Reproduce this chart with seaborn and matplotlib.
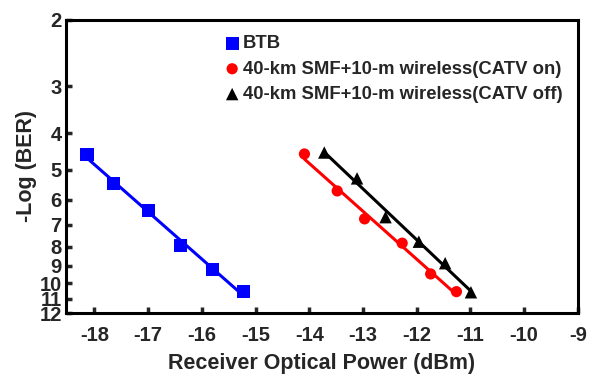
import numpy as np
import pandas as pd
import matplotlib
matplotlib.use("Agg")
import matplotlib.pyplot as plt
import seaborn as sns
from matplotlib.ticker import FixedLocator, FixedFormatter, NullLocator

sns.set_style("white")
plt.rcParams['font.family'] = ['Liberation Sans', 'DejaVu Sans']
plt.rcParams['font.weight'] = 'bold'

# data
btb_x = [-18.14, -17.65, -17.0, -16.4, -15.8, -15.22]
btb_y = [4.55, 5.43, 6.42, 7.95, 9.22, 10.53]
on_x = [-14.09, -13.48, -12.97, -12.27, -11.74, -11.26]
on_y = [4.54, 5.69, 6.75, 7.83, 9.45, 10.53]
off_x = [-13.72, -13.11, -12.58, -11.96, -11.47, -10.99]
off_y = [4.50, 5.27, 6.68, 7.76, 8.85, 10.57]

labels = ['BTB', '40-km SMF+10-m wireless(CATV on)', '40-km SMF+10-m wireless(CATV off)']
colors = ['#0000ff', '#ff0000', '#000000']
markers = ['s', 'o', '^']
sizes = [90, 65, 80]

x_ticks = [-18, -17, -16, -15, -14, -13, -12, -11, -10, -9]
y_ticks = [2, 3, 4, 5, 6, 7, 8, 9, 10, 11, 12]

fig = plt.figure(figsize=(5.89, 3.74), dpi=100)
ax = fig.add_axes([0.112, 0.163, 0.869, 0.784])

series = [(btb_x, btb_y), (on_x, on_y), (off_x, off_y)]
for (xs, ys), lab, c, m, s in zip(series, labels, colors, markers, sizes):
    xs = np.array(xs)
    ys = np.array(ys)
    # linear fit in x vs log(-log BER)
    k, b = np.polyfit(xs, np.log10(ys), 1)
    fx = np.array([xs.min(), xs.max()])
    fit = pd.DataFrame({'x': fx, 'y': 10 ** (k * fx + b)})
    sns.lineplot(data=fit, x='x', y='y', color=c, lw=2.2, ax=ax, legend=False)
    pts = pd.DataFrame({'x': xs, 'y': ys})
    sns.scatterplot(data=pts, x='x', y='y', color=c, marker=m, s=s,
                    edgecolor='none', ax=ax, label=lab, zorder=3)

ax.set_yscale('log')
ax.set_ylim(12, 2)
ax.set_xlim(-18.53, -9)
ax.yaxis.set_major_locator(FixedLocator(y_ticks))
ax.yaxis.set_major_formatter(FixedFormatter([str(t) for t in y_ticks]))
ax.yaxis.set_minor_locator(NullLocator())
ax.set_xticks(x_ticks)
ax.set_xticklabels([str(t) for t in x_ticks])

for sp in ax.spines.values():
    sp.set_linewidth(2.2)
    sp.set_color('black')
ax.tick_params(axis='both', direction='in', length=4, width=2.5, labelsize=14.5,
               left=True, bottom=True, top=False, right=False)
ax.tick_params(axis='x', pad=9)
ax.tick_params(axis='y', pad=3)
for t in ax.get_xticklabels() + ax.get_yticklabels():
    t.set_fontweight('bold')

ax.set_xlabel('Receiver Optical Power (dBm)', fontsize=15.5, fontweight='bold', labelpad=6)
ax.set_ylabel('-Log (BER)', fontsize=15.5, fontweight='bold', labelpad=2)

leg = ax.legend(loc='upper left', bbox_to_anchor=(0.285, 0.985), frameon=False,
                fontsize=13.3, handletextpad=0.1, labelspacing=0.45, borderaxespad=0.2,
                handlelength=1.0)
for t in leg.get_texts():
    t.set_fontweight('bold')

fig.savefig('out.png', dpi=100)
